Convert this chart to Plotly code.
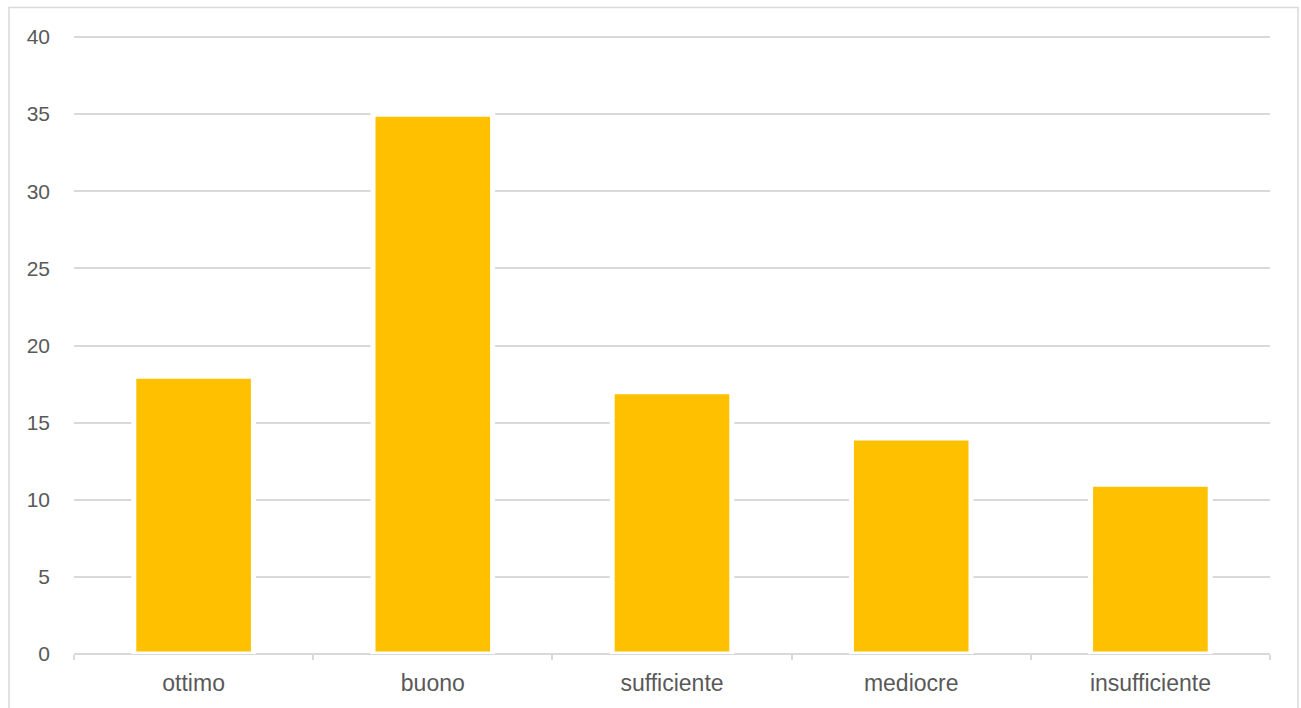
import plotly.graph_objects as go

categories = ["ottimo", "buono", "sufficiente", "mediocre", "insufficiente"]
values = [18, 35, 17, 14, 11]
y_ticks = [0, 5, 10, 15, 20, 25, 30, 35, 40]

# plot area in pixels: y=0 at 654, y=40 at 37; top margin gives room above 40
L, R, T, B = 74, 31, 31, 54
W, H = 1301, 708
pw = W - L - R
ph = H - T - B
y_top = y_ticks[-1] * ph / (654 - 37)

fig = go.Figure(go.Bar(
    x=categories, y=values, width=0.5,
    marker=dict(color="#FFC000", line=dict(color="#FFFFFF", width=5)),
    hoverinfo="x+y",
))

fig.update_layout(
    width=W, height=H,
    margin=dict(l=L, r=R, t=T, b=B),
    paper_bgcolor="white", plot_bgcolor="white",
    font=dict(family="Liberation Sans, Arial, sans-serif", size=16, color="#595959"),
    showlegend=False,
    shapes=[dict(type="rect", xref="paper", yref="paper",
                 x0=(9 - L) / pw, x1=(1298 - L) / pw,
                 y0=(T + ph - 715) / ph,
                 y1=(T + ph - 7.5) / ph,
                 line=dict(color="#D9D9D9", width=1.5), layer="below")],
)
fig.update_xaxes(
    showgrid=False, showline=False,
    ticks="outside", tickson="boundaries", ticklen=5, tickcolor="#D9D9D9", tickwidth=1.5,
    ticklabelstandoff=13, range=[-0.5, 4.5], tickfont=dict(size=23),
)
fig.update_yaxes(
    range=[0, y_top], tickvals=y_ticks, showgrid=True, gridcolor="#D9D9D9", gridwidth=1.5,
    zeroline=True, zerolinecolor="#D9D9D9", zerolinewidth=1.5,
    showline=False, ticks="", ticklabelstandoff=23, tickfont=dict(size=21),
)

fig.write_html("out.html", config={"displayModeBar": False},
               post_script="document.body.style.margin='0px';")
